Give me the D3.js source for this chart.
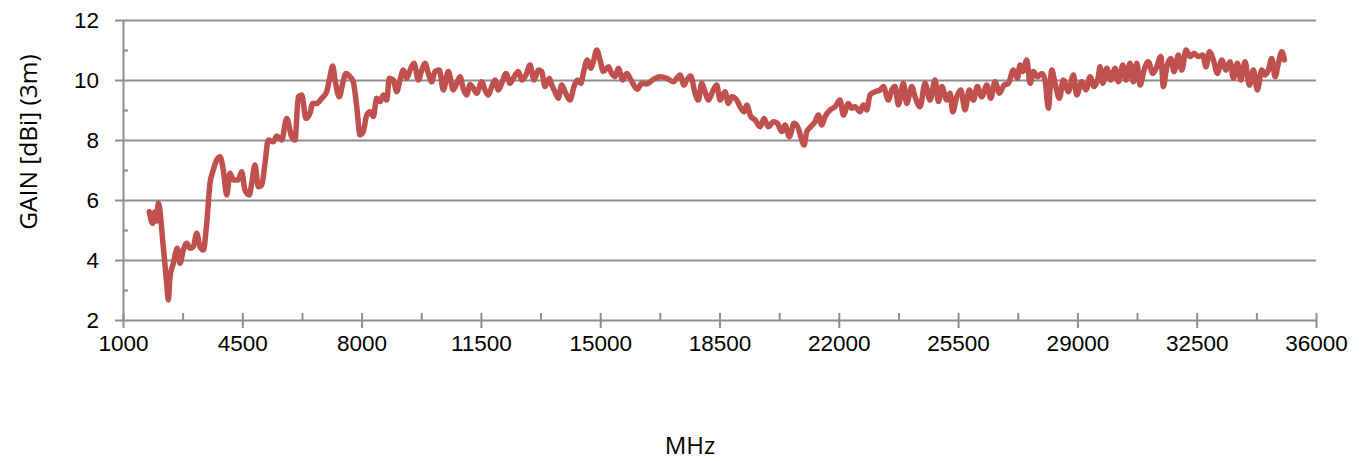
<!DOCTYPE html>
<html>
<head>
<meta charset="utf-8">
<script src="https://cdn.jsdelivr.net/npm/d3@7"></script>
<style>
  html, body { margin: 0; padding: 0; background: #fff; }
  svg { display: block; font-family: "Open Sans", "Noto Sans", sans-serif; }
</style>
</head>
<body>
<svg id="chart" width="1367" height="461"></svg>
<script>
const freqMHz = [
  1772, 1871, 1939, 1989, 2036, 2182, 2282, 2329, 2379, 2476,
  2593, 2672, 2769, 2869, 2966, 3063, 3162, 3259, 3356, 3456,
  3553, 3649, 3749, 3846, 3943, 4043, 4139, 4236, 4383, 4483,
  4579, 4706, 4776, 4873, 4970, 5069, 5166, 5263, 5410, 5510,
  5656, 5803, 5950, 6046, 6143, 6243, 6369, 6487,
  6566, 6683, 6830, 6977, 7073, 7153, 7220, 7346, 7446, 7543,
  7660, 7757, 7857, 7954, 8050, 8150, 8247, 8344, 8443, 8540,
  8637, 8737, 8813, 8930, 9030, 9127, 9224, 9324, 9421, 9538,
  9664, 9764, 9861, 9958, 10057, 10154, 10280, 10398, 10544, 10691,
  10791, 10888, 10984, 11084, 11181,
  11278, 11377, 11524, 11621, 11718, 11818, 11914, 12011, 12111, 12237,
  12355, 12451, 12598, 12698, 12824, 12941, 13059, 13185, 13284, 13381,
  13508, 13578, 13675, 13772, 13871, 13968, 14115, 14232, 14329, 14429,
  14526, 14623, 14722, 14799, 14898, 14995, 15092, 15239, 15338, 15435,
  15532, 15661, 15779, 15875,
  16090, 16219, 16365, 16559, 16756, 16952, 17146, 17342, 17460, 17539,
  17656, 17782, 17879, 17979, 18076, 18173, 18319, 18419, 18516, 18663,
  18760, 18859, 19006, 19103, 19220, 19299, 19417, 19543, 19690, 19807,
  19933, 20080, 20197, 20326, 20423, 20549,
  20687, 20813, 20884, 20981, 21060, 21177, 21303, 21400, 21500, 21597,
  21743, 21890, 22037, 22134, 22280, 22380, 22477, 22624, 22720, 22820,
  22917, 23064, 23210, 23307, 23454, 23554, 23650, 23747, 23894, 23994,
  24140, 24237, 24384, 24531, 24677, 24824, 24921, 25021, 25167, 25264,
  25343, 25461, 25578, 25704, 25830, 25948, 26065, 26194, 26341, 26458,
  26584, 26711, 26849, 26975, 27121, 27239, 27318, 27397, 27515, 27611,
  27708, 27825, 27955, 28051, 28148, 28248, 28345, 28471, 28588, 28735,
  28882, 28981, 29128, 29254, 29372, 29489, 29615,
  29665, 29744, 29862, 29979, 30105, 30202, 30331, 30428, 30545, 30642,
  30742, 30839, 30956, 31082, 31211, 31329, 31446, 31522, 31622, 31739,
  31836, 31962, 32062, 32188, 32306, 32423, 32549, 32678, 32775, 32872,
  32989, 33107, 33236, 33362, 33479, 33576, 33694, 33793, 33919, 34046,
  34163, 34280, 34409, 34506, 34603, 34703, 34800, 34896, 34996, 35072
];
const gainDbi = [
  5.61, 5.22, 5.61, 5.30, 5.89, 4.44, 3.22, 2.67, 3.44, 3.89,
  4.39, 3.89, 4.33, 4.56, 4.39, 4.44, 4.89, 4.44, 4.33, 5.22,
  6.56, 7.00, 7.33, 7.44, 7.00, 6.17, 6.89, 6.67, 6.67, 6.94,
  6.33, 6.17, 6.56, 7.17, 6.44, 6.50, 7.22, 8.00, 7.94, 8.13,
  8.00, 8.72, 8.10, 8.00, 9.44, 9.50, 8.72, 8.90,
  9.22, 9.22, 9.39, 9.61, 10.11, 10.47, 10.00, 9.44, 9.89, 10.22,
  10.11, 9.94, 9.11, 8.17, 8.28, 8.83, 8.94, 8.78, 9.39, 9.28,
  9.50, 9.33, 10.06, 10.00, 9.61, 10.00, 10.33, 10.06, 10.33, 10.56,
  10.00, 10.33, 10.56, 10.22, 9.94, 10.28, 10.33, 9.67, 10.28, 9.67,
  9.89, 10.11, 9.70, 9.50, 9.85,
  9.72, 9.56, 9.94, 9.67, 9.50, 9.78, 10.00, 9.67, 9.89, 10.22,
  9.89, 10.06, 10.28, 10.00, 10.17, 10.50, 10.00, 10.33, 10.28, 9.78,
  10.06, 9.83, 9.61, 9.39, 9.83, 9.61, 9.33, 9.78, 10.00, 9.89,
  10.33, 10.67, 10.39, 10.61, 11.00, 10.67, 10.28, 10.44, 10.22, 10.11,
  10.39, 10.00, 10.22, 10.06,
  9.69, 9.89, 9.87, 10.02, 10.11, 10.06, 9.94, 10.17, 9.83, 10.00,
  10.13, 9.56, 9.33, 9.89, 9.61, 9.33, 9.67, 9.83, 9.33, 9.61,
  9.22, 9.44, 9.33, 9.11, 8.94, 9.17, 8.78, 8.67, 8.44, 8.72,
  8.44, 8.61, 8.56, 8.28, 8.50, 8.11,
  8.56, 8.39, 8.11, 7.83, 8.28, 8.44, 8.61, 8.83, 8.50, 8.78,
  9.00, 9.11, 9.33, 8.83, 9.22, 9.06, 9.11, 8.94, 9.17, 9.00,
  9.50, 9.61, 9.67, 9.78, 9.33, 9.67, 9.78, 9.17, 9.89, 9.22,
  9.78, 9.44, 9.11, 9.89, 9.33, 10.00, 9.28, 9.78, 9.33, 9.56,
  8.94, 9.44, 9.67, 9.00, 9.67, 9.33, 9.78, 9.44, 9.83, 9.39,
  9.94, 9.56, 9.83, 9.89, 10.33, 10.06, 10.50, 10.28, 10.67, 9.89,
  10.28, 10.11, 10.22, 10.00, 9.06, 10.33, 9.89, 9.39, 10.00, 9.61,
  10.17, 9.50, 9.94, 9.67, 10.11, 9.78, 10.11,
  10.44, 9.89, 10.39, 10.00, 10.39, 9.94, 10.50, 10.00, 10.56, 9.94,
  10.56, 9.83, 10.33, 10.61, 10.22, 10.44, 10.78, 9.78, 10.44, 10.72,
  10.28, 10.83, 10.33, 11.00, 10.78, 10.89, 10.78, 10.83, 10.44, 10.94,
  10.67, 10.22, 10.67, 10.33, 10.61, 10.06, 10.56, 10.00, 10.61, 9.83,
  10.33, 9.67, 10.33, 10.17, 10.33, 10.72, 10.11, 10.56, 10.94, 10.67
];
const xMajorTicks = [1000, 4500, 8000, 11500, 15000, 18500, 22000, 25500, 29000, 32500, 36000];
const xMinorTicks = [2750, 6250, 9750, 13250, 16750, 20250, 23750, 27250, 30750, 34250];
const yMajorTicks = [2, 4, 6, 8, 10, 12];
const yMinorTicks = [3, 5, 7, 9, 11];

const svg = d3.select("#chart");
const plotL = 123, plotR = 1316, plotT = 20, plotB = 320;
const gridColor = "#8e8e8e";

const x = d3.scaleLinear().domain([1000, 36000]).range([plotL, plotR]);
const y = d3.scaleLinear().domain([2, 12]).range([plotB, plotT]);

// horizontal gridlines
svg.append("g")
  .attr("transform", `translate(${plotL},0)`)
  .call(d3.axisLeft(y).tickValues(yMajorTicks.slice(1)).tickSize(-(plotR - plotL)).tickFormat(""))
  .call(g => g.select(".domain").remove())
  .selectAll("line").attr("stroke", gridColor).attr("stroke-width", 2);

// y axis with cross major ticks and inside minor ticks
const yAxis = svg.append("g")
  .attr("transform", `translate(${plotL},0)`)
  .call(d3.axisLeft(y).tickValues(yMajorTicks).tickSize(8).tickPadding(16).tickSizeOuter(0));
yAxis.select(".domain").attr("stroke", gridColor).attr("stroke-width", 2);
yAxis.selectAll(".tick line").attr("stroke", gridColor).attr("stroke-width", 2);
yAxis.selectAll("text").attr("font-size", 22.5).attr("fill", "#000");

svg.append("g")
  .attr("transform", `translate(${plotL},0)`)
  .call(d3.axisRight(y).tickValues(yMinorTicks).tickSize(5).tickFormat(""))
  .call(g => g.select(".domain").remove())
  .selectAll("line").attr("stroke", gridColor).attr("stroke-width", 2);

// x axis
const xAxis = svg.append("g")
  .attr("transform", `translate(0,${plotB})`)
  .call(d3.axisBottom(x).tickValues(xMajorTicks).tickSize(8).tickPadding(7).tickSizeOuter(0).tickFormat(d3.format("d")));
xAxis.select(".domain").attr("stroke", gridColor).attr("stroke-width", 2);
xAxis.selectAll(".tick line").attr("stroke", gridColor).attr("stroke-width", 2);
xAxis.selectAll("text").attr("font-size", 22.5).attr("fill", "#000");

svg.append("g")
  .attr("transform", `translate(0,${plotB})`)
  .call(d3.axisTop(x).tickValues(xMajorTicks.concat(xMinorTicks)).tickSize(7).tickFormat(""))
  .call(g => g.select(".domain").remove())
  .selectAll("line").attr("stroke", gridColor).attr("stroke-width", 2);

// gain curve
const points = d3.zip(freqMHz, gainDbi);
svg.append("path")
  .datum(points)
  .attr("fill", "none")
  .attr("stroke", "#C0504D")
  .attr("stroke-width", 5.5)
  .attr("stroke-linejoin", "round")
  .attr("stroke-linecap", "round")
  .attr("d", d3.line().x(d => x(d[0])).y(d => y(d[1])).curve(d3.curveMonotoneX));

// axis titles
svg.append("text")
  .attr("transform", "translate(27,142) rotate(-90)")
  .attr("text-anchor", "middle")
  .attr("dominant-baseline", "central")
  .attr("font-size", 24.5)
  .attr("fill", "#000")
  .text("GAIN [dBi] (3m)");

svg.append("text")
  .attr("x", 690)
  .attr("y", 454)
  .attr("text-anchor", "middle")
  .attr("font-size", 24)
  .attr("fill", "#000")
  .text("MHz");
</script>
</body>
</html>
